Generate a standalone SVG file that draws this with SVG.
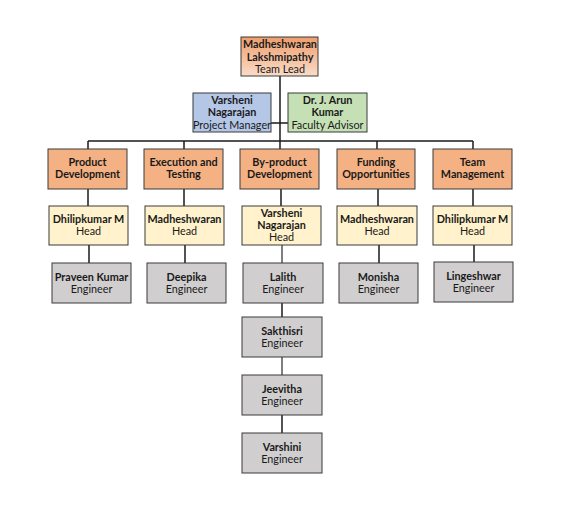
<svg xmlns="http://www.w3.org/2000/svg" width="566" height="506" viewBox="0 0 566 506">
<defs>
<linearGradient id="gTop" x1="0" y1="0" x2="0" y2="1">
<stop offset="0" stop-color="#EE9E6C"/>
<stop offset="1" stop-color="#FADCC8"/>
</linearGradient>
<style>
.box{stroke:#3a3a3a;stroke-width:1}
.top{fill:url(#gTop)}
.blue{fill:#B4C7E7}
.green{fill:#C5E0B4}
.dept{fill:#F4B183}
.head{fill:#FFF2CC}
.eng{fill:#D0CECE}
text{font-family:Lato,"Open Sans","Liberation Sans",sans-serif;font-size:10.8px;fill:#1a1a1a;text-anchor:middle}
.b{font-weight:bold}
.conn line{stroke:#1a1a1a;stroke-width:1.5}
.conn line.g{stroke:#555}
</style>
</defs>
<rect width="566" height="506" fill="#ffffff"/>
<g id="connectors" class="conn">
<line x1="280" y1="76" x2="280" y2="141"/>
<line x1="271" y1="123" x2="288" y2="123"/>
<line x1="88" y1="141" x2="473" y2="141"/>
<line x1="88" y1="141" x2="88" y2="149"/>
<line x1="184" y1="141" x2="184" y2="149"/>
<line x1="280" y1="141" x2="280" y2="149"/>
<line x1="377" y1="141" x2="377" y2="149"/>
<line x1="473" y1="141" x2="473" y2="149"/>
<line x1="88" y1="189" x2="88" y2="206"/>
<line x1="184" y1="189" x2="184" y2="206"/>
<line x1="281" y1="189" x2="281" y2="206"/>
<line x1="378" y1="189" x2="378" y2="206"/>
<line x1="473" y1="189" x2="473" y2="206"/>
<line x1="89" y1="245" x2="89" y2="263"/>
<line x1="185" y1="245" x2="185" y2="263"/>
<line class="g" x1="282" y1="245" x2="282" y2="263"/>
<line x1="379" y1="245" x2="379" y2="263"/>
<line x1="474" y1="245" x2="474" y2="262"/>
<line x1="282" y1="303" x2="282" y2="317"/>
<line class="g" x1="282" y1="357" x2="282" y2="375"/>
<line x1="282" y1="415" x2="282" y2="433"/>
</g>
<g id="team-lead"><rect class="box top" x="241" y="37" width="77" height="39"/>
<text x="280" y="48" class="b">Madheshwaran</text><text x="280" y="60.5" class="b">Lakshmipathy</text><text x="280" y="73">Team Lead</text></g>
<g id="project-manager"><rect class="box blue" x="193" y="93" width="78" height="39"/>
<text x="232" y="104" class="b">Varsheni</text><text x="232" y="116" class="b">Nagarajan</text><text x="232" y="128.5">Project Manager</text></g>
<g id="faculty-advisor"><rect class="box green" x="288" y="93" width="79" height="39"/>
<text x="327.5" y="104" class="b">Dr. J. Arun</text><text x="327.5" y="116" class="b">Kumar</text><text x="327.5" y="128.5">Faculty Advisor</text></g>
<g id="dept-product"><rect class="box dept" x="48" y="149" width="79" height="40"/>
<text x="87.5" y="166" class="b">Product</text><text x="87.5" y="178" class="b">Development</text></g>
<g id="dept-execution"><rect class="box dept" x="144" y="149" width="79" height="40"/>
<text x="183.5" y="166" class="b">Execution and</text><text x="183.5" y="178" class="b">Testing</text></g>
<g id="dept-byproduct"><rect class="box dept" x="240" y="149" width="79" height="40"/>
<text x="279.5" y="166" class="b">By-product</text><text x="279.5" y="178" class="b">Development</text></g>
<g id="dept-funding"><rect class="box dept" x="337" y="149" width="78" height="40"/>
<text x="376" y="166" class="b">Funding</text><text x="376" y="178" class="b">Opportunities</text></g>
<g id="dept-team"><rect class="box dept" x="433" y="149" width="79" height="40"/>
<text x="472.5" y="166" class="b">Team</text><text x="472.5" y="178" class="b">Management</text></g>
<g id="head-product"><rect class="box head" x="49" y="206" width="79" height="39"/>
<text x="88.5" y="223" class="b">Dhilipkumar M</text><text x="88.5" y="235">Head</text></g>
<g id="head-execution"><rect class="box head" x="145" y="206" width="79" height="39"/>
<text x="184.5" y="223" class="b">Madheshwaran</text><text x="184.5" y="235">Head</text></g>
<g id="head-byproduct"><rect class="box head" x="242" y="206" width="79" height="39"/>
<text x="281.5" y="217" class="b">Varsheni</text><text x="281.5" y="229" class="b">Nagarajan</text><text x="281.5" y="241">Head</text></g>
<g id="head-funding"><rect class="box head" x="337" y="206" width="80" height="39"/>
<text x="377" y="223" class="b">Madheshwaran</text><text x="377" y="235">Head</text></g>
<g id="head-team"><rect class="box head" x="433" y="206" width="79" height="39"/>
<text x="472.5" y="223" class="b">Dhilipkumar M</text><text x="472.5" y="235">Head</text></g>
<g id="eng-praveen"><rect class="box eng" x="52" y="263" width="79" height="40"/>
<text x="91.5" y="281" class="b">Praveen Kumar</text><text x="91.5" y="293">Engineer</text></g>
<g id="eng-deepika"><rect class="box eng" x="147" y="263" width="79" height="40"/>
<text x="186.5" y="281" class="b">Deepika</text><text x="186.5" y="293">Engineer</text></g>
<g id="eng-lalith"><rect class="box eng" x="243" y="263" width="80" height="40"/>
<text x="283" y="281" class="b">Lalith</text><text x="283" y="293">Engineer</text></g>
<g id="eng-monisha"><rect class="box eng" x="339" y="263" width="79" height="40"/>
<text x="378.5" y="281" class="b">Monisha</text><text x="378.5" y="293">Engineer</text></g>
<g id="eng-lingeshwar"><rect class="box eng" x="434" y="262" width="79" height="40"/>
<text x="473.5" y="279.5" class="b">Lingeshwar</text><text x="473.5" y="292">Engineer</text></g>
<g id="eng-sakthisri"><rect class="box eng" x="242" y="317" width="80" height="40"/>
<text x="282" y="335" class="b">Sakthisri</text><text x="282" y="347">Engineer</text></g>
<g id="eng-jeevitha"><rect class="box eng" x="242" y="375" width="80" height="40"/>
<text x="282" y="393" class="b">Jeevitha</text><text x="282" y="405">Engineer</text></g>
<g id="eng-varshini"><rect class="box eng" x="242" y="433" width="80" height="40"/>
<text x="282" y="451" class="b">Varshini</text><text x="282" y="463">Engineer</text></g>
</svg>
